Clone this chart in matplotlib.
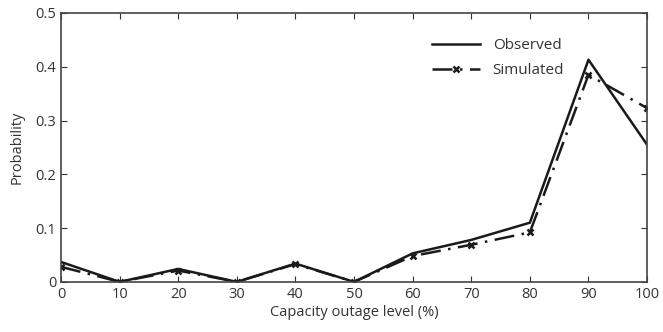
import matplotlib.pyplot as plt

plt.rcParams['font.family'] = ['Open Sans', 'DejaVu Sans']

outage_levels = [0, 10, 20, 30, 40, 50, 60, 70, 80, 90, 100]
observed = [0.037, 0, 0.024, 0, 0.034, 0, 0.053, 0.078, 0.110, 0.413, 0.255]
simulated = [0.028, 0, 0.021, 0, 0.033, 0, 0.048, 0.069, 0.092, 0.385, 0.323]

fig = plt.figure(figsize=(6.63, 3.32), dpi=100)
ax = fig.add_axes([0.092, 0.151, 0.884, 0.810])

ax.plot(outage_levels, observed, color='#1a1a1a', linewidth=1.8, label='Observed')
ax.plot(outage_levels, simulated, color='#1a1a1a', linewidth=1.8, linestyle=(0, (8, 3, 1, 3)),
        marker='x', markersize=5, markeredgewidth=1.8, label='Simulated')

ax.set_xlim(0, 100)
ax.set_ylim(0, 0.5)
ax.set_xticks(outage_levels)
ax.set_yticks([0, 0.1, 0.2, 0.3, 0.4, 0.5])
ax.set_yticklabels(['0', '0.1', '0.2', '0.3', '0.4', '0.5'])
ax.tick_params(direction='in', top=True, right=True, labelsize=10.5, colors='#333333', length=4)
for s in ax.spines.values():
    s.set_color('#444444')
    s.set_linewidth(1.2)

ax.set_xlabel('Capacity outage level (%)', fontsize=10.5, color='#333333', labelpad=2)
ax.set_ylabel('Probability', fontsize=10.5, color='#333333', labelpad=8)

ax.legend(loc='upper right', bbox_to_anchor=(0.882, 0.957), frameon=False, fontsize=11,
          handlelength=3.2, labelspacing=0.65, labelcolor='#333333')

fig.savefig('out.png', dpi=100)
